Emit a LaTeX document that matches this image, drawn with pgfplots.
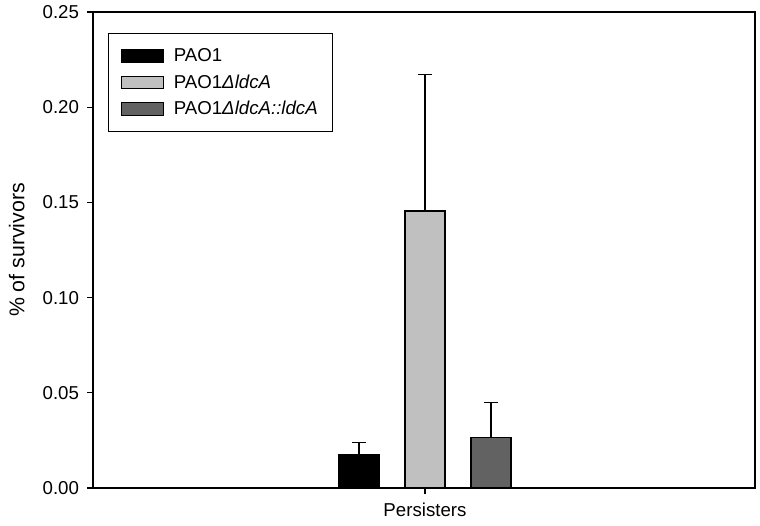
\documentclass[border=0pt]{standalone}
\usepackage{pgfplots}
\pgfplotsset{compat=1.18}
\usepackage{fontspec}
\setmainfont{Liberation Sans}
\definecolor{lightbar}{RGB}{192,192,192}
\definecolor{darkbar}{RGB}{98,98,98}
\begin{document}
\begin{tikzpicture}
\begin{axis}[
  name=main,
  scale only axis,
  width=496.5pt, height=357pt,
  xmin=-5.03, xmax=5.0,
  ymin=0, ymax=0.25,
  ytick={0,0.05,0.10,0.15,0.20,0.25},
  yticklabel style={font=\fontsize{14pt}{16pt}\selectfont, xshift=-2.5pt, /pgf/number format/fixed,/pgf/number format/precision=2,/pgf/number format/fixed zerofill},
  /pgf/number format/assume math mode=true,
  xtick={0}, xticklabels={Persisters},
  xticklabel style={font=\fontsize{14pt}{16pt}\selectfont, yshift=-3pt},
  tick align=outside, ytick pos=left, xtick pos=lower,
  major tick length=4.5pt,
  tick style={black, line width=0.8pt},
  axis line style={line width=0.8pt},
  ylabel={\% of survivors},
  ylabel style={font=\fontsize{16pt}{18pt}\selectfont, at={(axis description cs:-0.103,0.5)}, anchor=south, inner sep=0pt},
  ybar, bar width=30pt, bar shift=0pt,
  legend style={at={(0.023,0.956)}, anchor=north west, draw=black, line width=0.8pt,
    font=\fontsize{14pt}{16pt}\selectfont, row sep=4.3pt, inner xsep=9pt, inner ysep=9.3pt, cells={anchor=west}},
  legend image code/.code={\draw[#1, line width=0.8pt] (0pt,-4.7pt) rectangle (32pt,4.7pt); \path (37pt,0pt);},
  error bars/y dir=plus, error bars/y explicit,
  error bars/error mark options={rotate=90, mark size=5pt, line width=0.8pt},
  error bars/error bar style={line width=0.8pt, black},
]
\addplot[fill=black, draw=black, line width=0.8pt] coordinates {(-1,0.0178) +- (0,0.0062)};
\addlegendentry{PAO1}
\addplot[fill=lightbar, draw=black, line width=0.8pt] coordinates {(0,0.1455) +- (0,0.0717)};
\addlegendentry{PAO1\textit{ΔldcA}}
\addplot[fill=darkbar, draw=black, line width=0.8pt] coordinates {(1,0.0266) +- (0,0.0181)};
\addlegendentry{PAO1\textit{ΔldcA::ldcA}}
\end{axis}
\path ([xshift=-69.75pt,yshift=-27.75pt]main.south west) rectangle ([xshift=3.75pt,yshift=9pt]main.north east);
\end{tikzpicture}
\end{document}
